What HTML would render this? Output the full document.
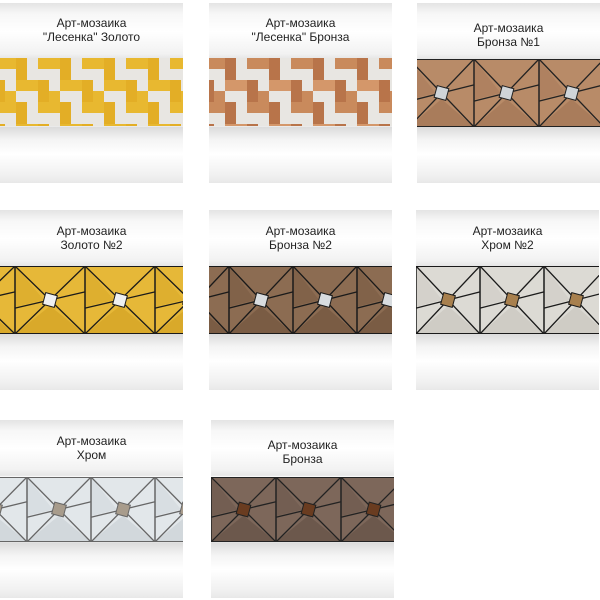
<!DOCTYPE html>
<html><head><meta charset="utf-8"><style>
body{margin:0;width:600px;height:600px;background:#fff;position:relative;overflow:hidden;font-family:"Liberation Sans",sans-serif}
.card{position:absolute;width:183px;background:linear-gradient(#e4e4e4 0%,#f7f7f7 6%,#fff 16%,#f2f2f2 28%,#e6e6e6 31%,#fff 32%,#fff 68%,#dcdcdc 69%,#f4f4f4 76%,#fff 84%,#f0f0f0 96%,#e8e8e8 100%)}
.t{position:absolute;left:0;right:0;text-align:center;font-size:12px;line-height:14px;color:#222}
.s{position:absolute;left:0;width:183px}
</style></head><body>
<svg width="0" height="0" style="position:absolute">
<defs>
<pattern id="lg" patternUnits="userSpaceOnUse" width="44" height="44" x="-6" y="0">
<rect width="44" height="44" fill="#e8e6e2"/>
<rect x="0" y="0" width="22" height="11" fill="#e8b830"/><rect x="22" y="0" width="11" height="22" fill="#e3ae26"/>
<rect x="22" y="22" width="22" height="11" fill="#e8b830"/><rect x="0" y="22" width="11" height="22" fill="#e3ae26"/>
<rect x="11" y="33" width="11" height="11" fill="#e8b830"/>
</pattern>
<pattern id="lb" patternUnits="userSpaceOnUse" width="44" height="44" x="-6" y="0">
<rect width="44" height="44" fill="#e8e6e2"/>
<rect x="0" y="0" width="22" height="11" fill="#c98a5c"/><rect x="22" y="0" width="11" height="22" fill="#b8744a"/>
<rect x="22" y="22" width="22" height="11" fill="#d4976a"/><rect x="0" y="22" width="11" height="22" fill="#b8744a"/>
<rect x="11" y="33" width="11" height="11" fill="#c98a5c"/>
</pattern>
</defs></svg>

<!-- Row 1 -->
<div class="card" style="left:0;top:3px;height:180px"><div class="t" style="top:13px">Арт-мозаика<br>"Лесенка" Золото</div>
<svg class="s" style="top:55px" width="183" height="68"><rect width="183" height="68" fill="url(#lg)"/></svg></div>
<div class="card" style="left:209px;top:3px;height:180px"><div class="t" style="top:13px">Арт-мозаика<br>"Лесенка" Бронза</div>
<svg class="s" style="top:55px" width="183" height="68"><rect width="183" height="68" fill="url(#lb)"/></svg></div>
<div class="card" style="left:417px;top:3px;height:180px"><div class="t" style="top:18px">Арт-мозаика<br>Бронза №1</div>
<svg class="s" style="top:56px" width="183" height="68" id="p1"></svg></div>

<!-- Row 2 -->
<div class="card" style="left:0;top:210px;height:180px"><div class="t" style="top:14px">Арт-мозаика<br>Золото №2</div>
<svg class="s" style="top:56px" width="183" height="68" id="p2"></svg></div>
<div class="card" style="left:209px;top:210px;height:180px"><div class="t" style="top:14px">Арт-мозаика<br>Бронза №2</div>
<svg class="s" style="top:56px" width="183" height="68" id="p3"></svg></div>
<div class="card" style="left:416px;top:210px;height:180px"><div class="t" style="top:14px">Арт-мозаика<br>Хром №2</div>
<svg class="s" style="top:56px" width="183" height="68" id="p4"></svg></div>

<!-- Row 3 -->
<div class="card" style="left:0;top:420px;height:178px"><div class="t" style="top:14px">Арт-мозаика<br>Хром</div>
<svg class="s" style="top:57px" width="183" height="65" id="p5"></svg></div>
<div class="card" style="left:211px;top:420px;height:178px"><div class="t" style="top:18px">Арт-мозаика<br>Бронза</div>
<svg class="s" style="top:57px" width="183" height="65" id="p6"></svg></div>

<script>
function pin(id,bg,bg2,line,sq,w,off){
 var s=document.getElementById(id),h=+s.getAttribute('height'),W=183,o='';
 o+='<rect width="'+W+'" height="'+h+'" fill="'+bg+'"/>';
 for(var x=off-w;x<W+w;x+=w){
  var cx=x+w/2,cy=h/2,d=6;
  o+='<polygon points="'+x+','+h+' '+(x+w)+','+h+' '+cx+','+(cy+d)+'" fill="'+bg2+'"/>';
  o+='<polygon points="'+x+',0 '+x+','+(h*0.6)+' '+(cx-d)+','+cy+'" fill="'+bg2+'" opacity="0.6"/>';
  o+='<line x1="'+x+'" y1="0" x2="'+x+'" y2="'+h+'" stroke="'+line+'" stroke-width="1.5"/>';
  o+='<line x1="'+x+'" y1="0" x2="'+(x+w)+'" y2="'+h+'" stroke="'+line+'" stroke-width="1.3"/>';
  o+='<line x1="'+(x+w)+'" y1="0" x2="'+x+'" y2="'+h+'" stroke="'+line+'" stroke-width="1.3"/>';
  o+='<line x1="'+x+'" y1="'+(h*0.62)+'" x2="'+cx+'" y2="'+cy+'" stroke="'+line+'" stroke-width="1.3"/>';
  o+='<line x1="'+cx+'" y1="'+cy+'" x2="'+(x+w)+'" y2="'+(h*0.38)+'" stroke="'+line+'" stroke-width="1.3"/>';
  o+='<rect x="'+(cx-d)+'" y="'+(cy-d)+'" width="'+(2*d)+'" height="'+(2*d)+'" fill="'+sq+'" stroke="'+line+'" transform="rotate(15 '+cx+' '+cy+')"/>';
 }
 o+='<line x1="0" y1="0.5" x2="'+W+'" y2="0.5" stroke="'+line+'"/><line x1="0" y1="'+(h-0.5)+'" x2="'+W+'" y2="'+(h-0.5)+'" stroke="'+line+'"/>';
 s.innerHTML=o;
}
pin('p1','#b88b68','#a97c5b','#222','#cfd4d8',65,57);
pin('p2','#e6b838','#d9a92a','#1a1a1a','#eef0f2',70,15);
pin('p3','#8c6c52','#7a5c44','#1a1a1a','#d8dcdf',64,20);
pin('p4','#dcdad4','#cfccc5','#1a1a1a','#a8804e',64,0);
pin('p5','#e2e7ea','#d2d8dc','#666','#a89c8c',64,27);
pin('p6','#7d675a','#6c584c','#222','#6a3c20',65,0);
</script>
</body></html>
